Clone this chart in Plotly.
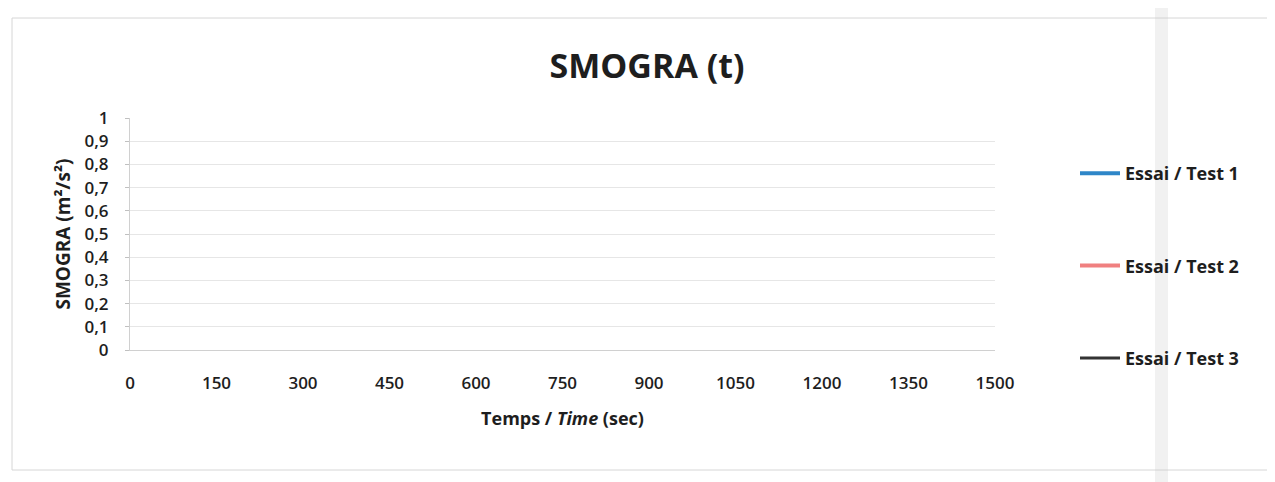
import plotly.graph_objects as go

# Data (chart is empty in the reference: no points plotted)
series_names = ["Essai / Test 1", "Essai / Test 2", "Essai / Test 3"]
series_colors = ["#2e86c8", "#f08080", "#333333"]
series_x = [[], [], []]
series_y = [[], [], []]
x_ticks = [0, 150, 300, 450, 600, 750, 900, 1050, 1200, 1350, 1500]
y_ticks = [0, 0.1, 0.2, 0.3, 0.4, 0.5, 0.6, 0.7, 0.8, 0.9, 1]

FONT = "Open Sans"
TXT = "#1e1e1e"

# page body has an 8px margin; work in figure coordinates
OFF = 8
W, H = 1275 - OFF, 482 - OFF

fig = go.Figure()
for i, (name, col, xs, ys) in enumerate(zip(series_names, series_colors, series_x, series_y)):
    fig.add_trace(go.Scatter(
        x=xs if xs else [None], y=ys if ys else [None],
        mode="lines", name=f"<b>{name}</b>", legendgroup=f"g{i}",
        line=dict(color=col, width=4 if i < 2 else 3),
    ))

# plot area in screen pixels: x 130..995, y 118..350
L = 130 - OFF
T = 118 - OFF
R = W - (995 - OFF)
B = H - (350 - OFF)
pw = W - L - R
ph = H - T - B

def px(X):
    return (X - OFF - L) / pw

def py(Y):
    return (H - B - (Y - OFF)) / ph

fig.update_layout(
    width=W, height=H,
    margin=dict(l=L, r=R, t=T, b=B, autoexpand=False),
    paper_bgcolor="white", plot_bgcolor="white",
    separators=", ",
    font=dict(family=FONT, color=TXT, size=15),
    title=dict(text="<b>SMOGRA (t)</b>", x=(647 - OFF) / W, xanchor="center",
               y=1 - (66 - OFF) / H, yanchor="middle",
               font=dict(family=FONT, size=34, color=TXT)),
    showlegend=True,
    legend=dict(x=px(1075), xanchor="left", y=py(155), yanchor="top",
                tracegroupgap=66, font=dict(family=FONT, size=18, color=TXT),
                itemwidth=40, bgcolor="rgba(0,0,0,0)"),
    xaxis=dict(range=[0, 1500], tickvals=x_ticks, showgrid=False, zeroline=False,
               automargin=False,
               showline=True, linecolor="#d0d0d0", linewidth=1,
               ticks="outside", ticklen=0, ticklabelstandoff=18,
               tickfont=dict(family=FONT, size=17, color=TXT, weight=600),
               title=dict(text="<b>Temps / <i>Time</i> (sec)</b>", standoff=18,
                          font=dict(family=FONT, size=18, color=TXT))),
    yaxis=dict(range=[0, 1], tickvals=y_ticks, showgrid=True, gridcolor="#e6e6e6",
               zeroline=False, automargin=False,
               showline=True, linecolor="#d0d0d0", linewidth=1,
               ticks="outside", ticklen=4, tickcolor="#c0c0c0", ticklabelstandoff=13,
               tickfont=dict(family=FONT, size=17, color=TXT, weight=600),
               title=dict(text="<b>SMOGRA (m²/s²)</b>", standoff=8,
                          font=dict(family=FONT, size=19, color=TXT))),
)

# outer chart-area border (right edge runs off the picture)
fig.add_shape(type="rect", xref="paper", yref="paper",
              x0=px(12), x1=px(1300), y0=py(470), y1=py(18),
              line=dict(color="#d6d6d6", width=1), layer="below")

# faint vertical fold band from the scan
fig.add_shape(type="rect", xref="paper", yref="paper",
              x0=px(1155), x1=px(1168), y0=py(490), y1=py(-10),
              line=dict(width=0), fillcolor="rgba(200,200,200,0.25)", layer="below")

fig.write_html("out.html")
